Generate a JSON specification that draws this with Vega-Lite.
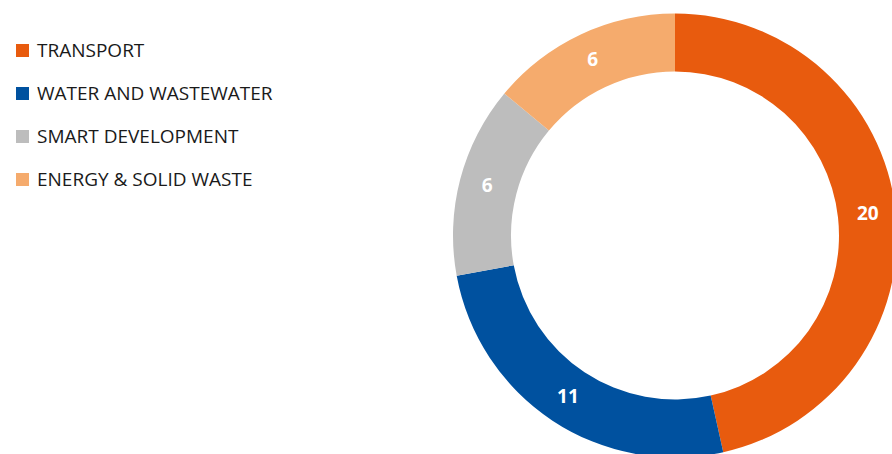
{
  "$schema": "https://vega.github.io/schema/vega-lite/v6.json",
  "autosize": {"type": "none"},
  "padding": {"left": 458, "top": 17, "right": 0, "bottom": 0},
  "width": 434,
  "height": 437,
  "background": "white",
  "config": {"view": {"stroke": null}, "font": "Open Sans"},
  "data": {"values": [
    {"sector": "TRANSPORT", "projects": 20, "idx": 1},
    {"sector": "WATER AND WASTEWATER", "projects": 11, "idx": 2},
    {"sector": "SMART DEVELOPMENT", "projects": 6, "idx": 3},
    {"sector": "ENERGY & SOLID WASTE", "projects": 6, "idx": 4}
  ]},
  "encoding": {
    "theta": {"field": "projects", "type": "quantitative", "stack": true},
    "order": {"field": "idx", "type": "quantitative"},
    "color": {
      "field": "sector", "type": "nominal",
      "scale": {
        "domain": ["TRANSPORT", "WATER AND WASTEWATER", "SMART DEVELOPMENT", "ENERGY & SOLID WASTE"],
        "range": ["#E85B0E", "#00519F", "#BDBDBD", "#F5AB6D"]
      },
      "legend": {
        "title": null,
        "orient": "none",
        "legendX": -445,
        "legendY": 24,
        "padding": 0,
        "symbolType": "square",
        "symbolSize": 170,
        "symbolStrokeWidth": 0,
        "labelFont": "Open Sans",
        "labelFontSize": 19,
        "labelColor": "#1a1a1a",
        "labelOffset": 5,
        "rowPadding": 23,
        "labelLimit": 400
      }
    }
  },
  "layer": [
    {"mark": {"type": "arc", "outerRadius": 222, "innerRadius": 164}},
    {
      "mark": {"type": "text", "radius": 194, "font": "Open Sans", "fontWeight": "bold", "fontSize": 19, "fill": "white", "align": "center", "baseline": "middle"},
      "encoding": {
        "text": {"field": "projects", "type": "quantitative"},
        "color": {"value": "white"}
      }
    }
  ]
}
